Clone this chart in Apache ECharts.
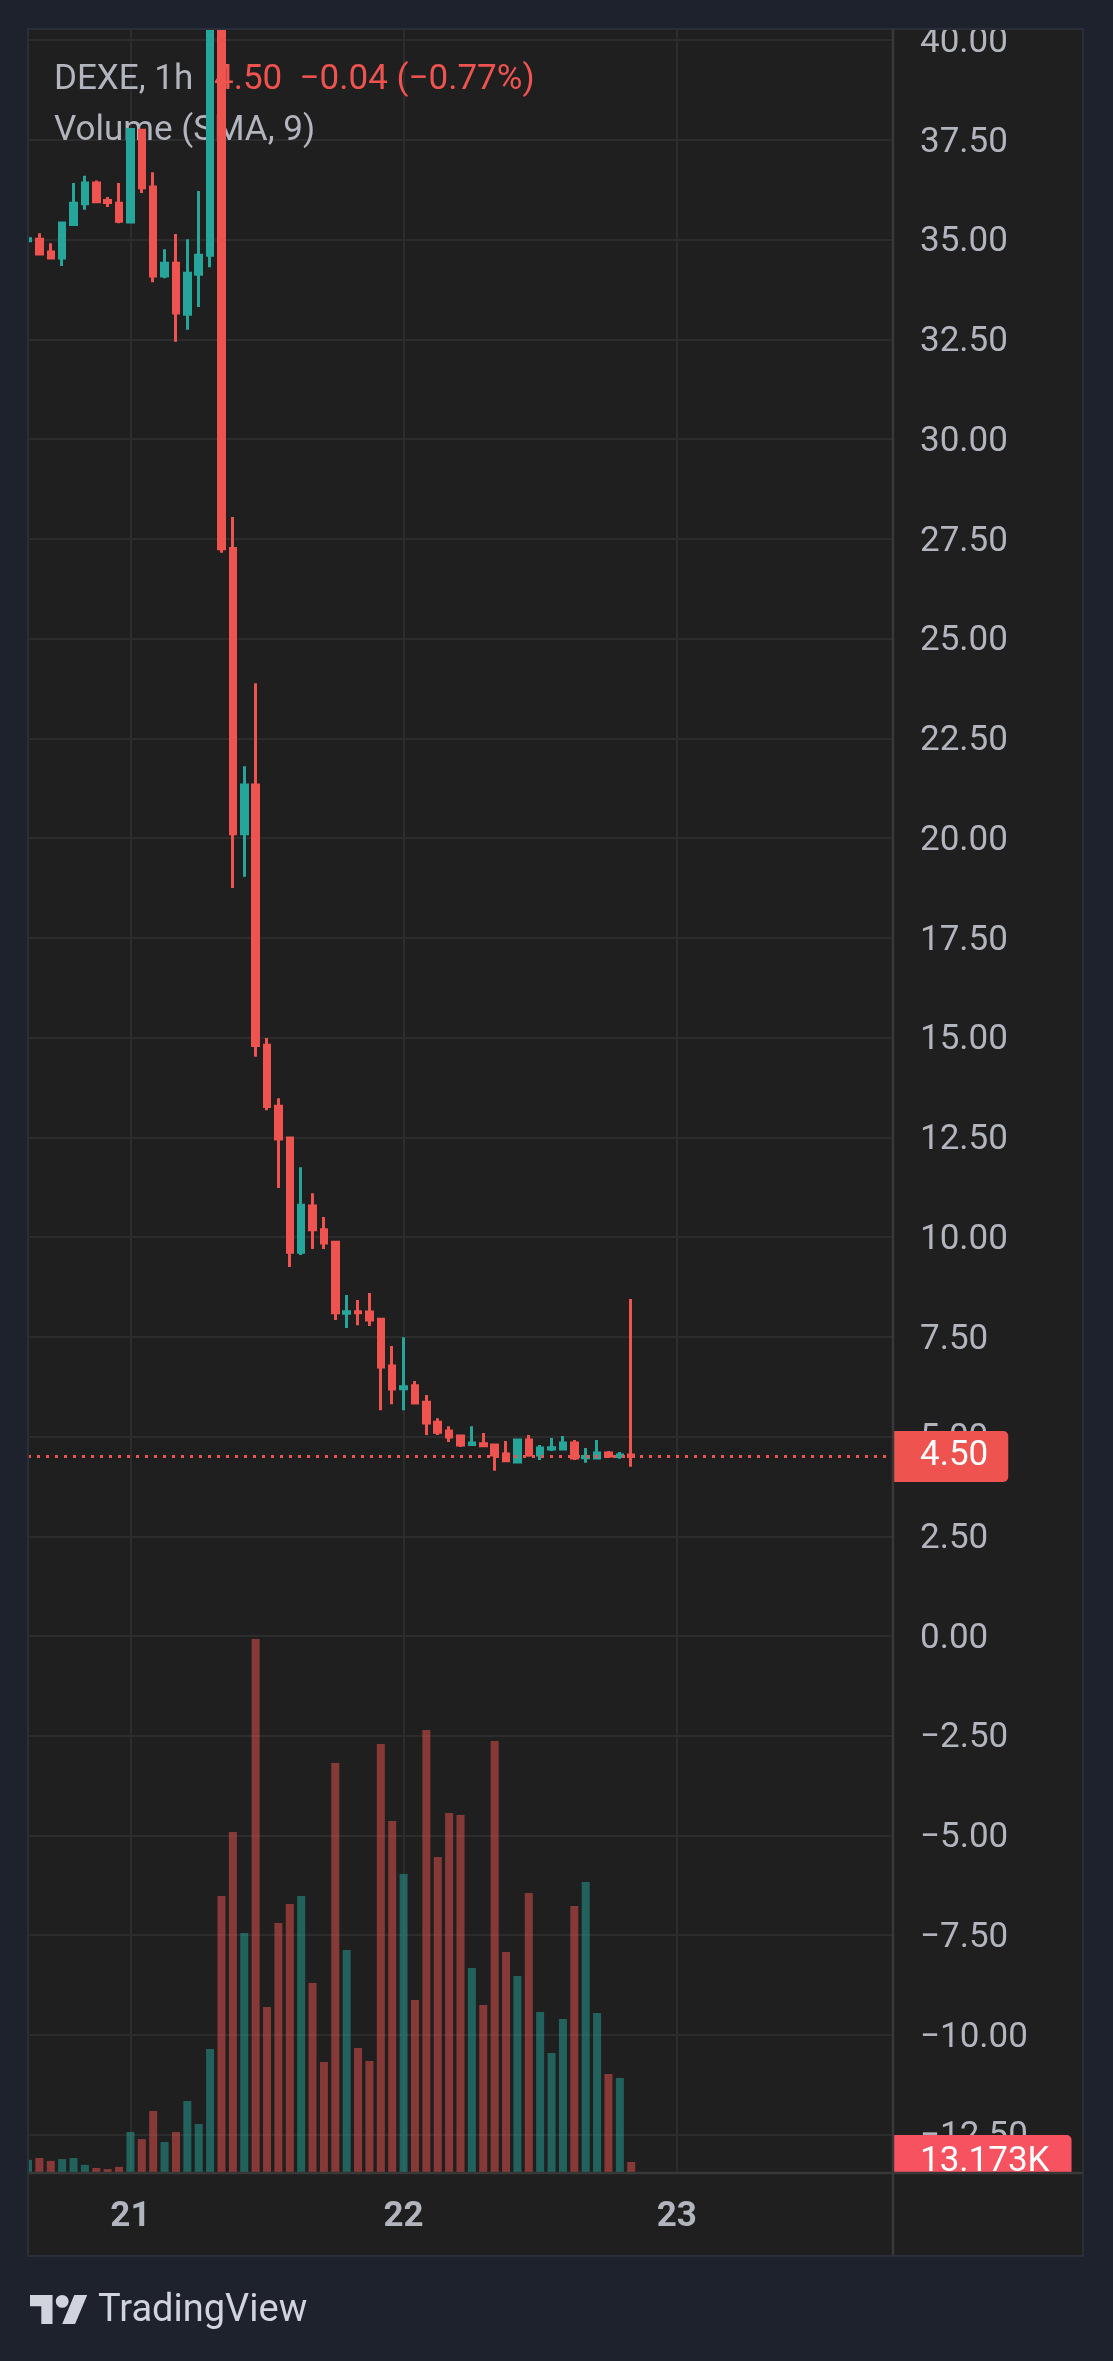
<!DOCTYPE html>
<html>
<head>
<meta charset="utf-8">
<script src="https://cdn.jsdelivr.net/npm/echarts@6/dist/echarts.min.js"></script>
<style>
html,body{margin:0;padding:0;background:#1e222d;}
#chart{width:1113px;height:2361px;}
</style>
</head>
<body>
<div id="chart"></div>
<script>
// ---- DATA ----
// hourly candles, first one = 20 15:00, last one = 22 20:00
const open  = [34.97,35.01,34.69,34.54,35.38,35.90,36.42,35.98,35.91,35.44,37.74,36.32,34.09,34.41,33.13,34.13,34.61,41.80,27.26,20.11,21.33,14.81,13.28,12.48,9.62,10.78,10.18,9.87,8.09,8.13,8.12,7.94,6.77,6.20,6.27,5.86,5.36,5.14,5.01,4.80,4.82,4.79,4.56,4.36,4.91,4.54,4.69,4.69,4.84,4.47,4.46,4.59,4.50,4.54];
const close = [35.02,34.64,34.54,35.42,35.91,36.42,35.95,35.93,35.46,37.76,36.30,34.09,34.41,33.16,34.16,34.61,41.80,27.25,20.11,21.33,14.80,13.27,12.46,9.62,10.80,10.18,9.85,8.10,8.13,8.10,7.92,6.74,6.19,6.25,5.84,5.34,5.11,4.99,4.79,4.84,4.77,4.54,4.39,4.91,4.54,4.71,4.72,4.84,4.46,4.50,4.59,4.51,4.54,4.50];
const low   = [34.96,34.64,34.54,34.34,35.36,35.75,35.93,35.82,35.41,35.42,36.17,33.93,34.03,32.44,32.74,33.31,34.31,27.15,18.75,19.03,14.52,13.18,11.23,9.25,9.55,9.70,9.70,7.92,7.72,7.79,7.77,5.66,5.81,5.66,5.82,5.04,5.04,4.86,4.74,4.76,4.74,4.14,4.38,4.35,4.49,4.41,4.64,4.68,4.41,4.34,4.45,4.46,4.44,4.24];
const high  = [35.03,35.16,34.91,35.44,36.42,36.60,36.48,36.07,36.42,37.78,37.76,36.69,34.76,35.14,35.01,36.22,42.60,42.00,28.05,21.80,23.88,14.99,13.48,12.50,11.75,11.10,10.50,9.90,8.55,8.42,8.60,7.95,7.27,7.49,6.39,6.04,5.46,5.26,5.04,5.26,5.09,4.80,4.89,4.93,5.04,4.79,4.96,5.01,4.91,4.71,4.91,4.64,4.61,8.45];
// volume in thousands
const volumeK = [15.8,18.0,14.5,16.6,18.0,9.8,6.0,4.7,7.3,49.1,40.6,74.3,37.1,49.1,86.2,58.7,148.5,331.7,408.4,287.4,639.5,198.8,299.4,322.2,331.7,227.5,132.9,491.0,267.1,149.7,134.1,513.8,421.6,358.1,207.2,530.5,378.4,431.1,428.7,245.5,201.2,517.4,264.7,235.9,335.3,192.8,143.7,184.4,319.8,348.5,191.6,118.6,113.8,13.173];
// price axis tick labels
const priceTicks = [-12.5,-10,-7.5,-5,-2.5,0,2.5,5,7.5,10,12.5,15,17.5,20,22.5,25,27.5,30,32.5,35,37.5,40];
// hourly time slots shown on the time axis (20 15:00 .. 23 19:00)
const categories = [];
for (let i = 0; i < 77; i++) {
  const t = 15 + i;
  categories.push((20 + Math.floor(t / 24)) + ' ' + String(t % 24).padStart(2, '0') + ':00');
}
const symbolName = 'DEXE, 1h';
const quoteText = '4.50  \u22120.04 (\u22120.77%)';
const volumeTitle = 'Volume (SMA, 9)';

// ---- CHART ----
const UP = '#26a69a', DOWN = '#ef5350';
const FONT = 'Roboto, sans-serif';
const candleData = open.map((o, i) => [o, close[i], low[i], high[i]]);
const volData = volumeK.map((v, i) => ({
  value: v,
  itemStyle: { color: close[i] >= open[i] ? 'rgba(38,166,154,0.5)' : 'rgba(239,83,80,0.5)' }
}));
const isDay = (v) => v.endsWith(' 00:00');
const fmtPrice = (v) => (v < 0 ? '\u2212' : '') + Math.abs(v).toFixed(2);

const chart = echarts.init(document.getElementById('chart'), null, { renderer: 'canvas' });
const lastClose = close[close.length - 1];
const lastVol = volumeK[volumeK.length - 1];

const option = {
  backgroundColor: '#1f1f1f',
  animation: false,
  textStyle: { fontFamily: FONT },
  grid: { left: 28, top: 29, width: 865, height: 2144 },
  xAxis: {
    type: 'category',
    data: categories,
    boundaryGap: false,
    axisLine: { show: false },
    axisTick: { show: false },
    axisLabel: {
      interval: (i, v) => isDay(v),
      formatter: (v) => v.split(' ')[0],
      color: '#b2b5be', fontSize: 35, fontWeight: 'bold', fontFamily: FONT, margin: 27
    },
    splitLine: { show: true, interval: (i, v) => isDay(v), lineStyle: { color: '#2c2c2c', width: 2 } }
  },
  yAxis: [
    {
      type: 'value', position: 'right', min: -13.46, max: 40.28,
      axisLine: { show: false },
      axisTick: { show: false, customValues: priceTicks },
      axisLabel: { customValues: priceTicks, formatter: fmtPrice, color: '#b2b5be', fontSize: 35, fontFamily: FONT, margin: 27, verticalAlign: 'top', lineHeight: 6 },
      splitLine: { show: true, lineStyle: { color: '#2c2c2c', width: 2 } }
    },
    { type: 'value', min: 0, max: 2567.6, show: false, splitLine: { show: false } }
  ],
  series: [
    {
      type: 'bar', xAxisIndex: 0, yAxisIndex: 1, data: volData, barWidth: 8, clip: true,
      markLine: {
        silent: true, symbol: ['none', 'none'],
        lineStyle: { color: 'rgba(0,0,0,0)', width: 1, type: 'solid' },
        label: {
          show: true, position: 'end', distance: 0, formatter: lastVol.toFixed(3) + 'K',
          color: '#ffffff', fontSize: 35, fontFamily: FONT, lineHeight: 36,
          backgroundColor: '#f7525f', padding: [9, 22, 9, 27], borderRadius: [0, 5, 5, 0]
        },
        data: [{ yAxis: lastVol }]
      }
    },
    {
      type: 'candlestick', xAxisIndex: 0, yAxisIndex: 0, data: candleData, barWidth: 6, clip: true,
      itemStyle: { color: UP, color0: DOWN, borderColor: UP, borderColor0: DOWN, borderWidth: 3 },
      markLine: {
        silent: true, symbol: ['none', 'none'],
        lineStyle: { color: DOWN, type: [3, 6], width: 3, cap: 'butt' },
        label: {
          show: true, position: 'end', distance: 0, formatter: lastClose.toFixed(2),
          color: '#ffffff', fontSize: 35, fontFamily: FONT, lineHeight: 36,
          backgroundColor: DOWN, padding: [8, 20, 7, 27], borderRadius: [0, 5, 5, 0]
        },
        data: [{ yAxis: lastClose }]
      }
    }
  ],
  graphic: [
    // legend texts (under the candles)
    { type: 'text', z: 1, left: 54, top: 63, style: { text: symbolName, fill: '#b2b5be', font: '35px ' + FONT } },
    { type: 'text', z: 1, left: 214, top: 63, style: { text: quoteText, fill: '#ef5350', font: '35px ' + FONT } },
    { type: 'text', z: 1, left: 54, top: 114, style: { text: volumeTitle, fill: '#b2b5be', font: '35px ' + FONT } },
    // cover bottom-right cell (clips the volume badge)
    { type: 'rect', z: 49, shape: { x: 894, y: 2174, width: 189, height: 82 }, style: { fill: '#1f1f1f' } },
    // outer frame
    { type: 'rect', z: 50, shape: { x: 0, y: 0, width: 1113, height: 28 }, style: { fill: '#1e222d' } },
    { type: 'rect', z: 50, shape: { x: 0, y: 0, width: 27, height: 2361 }, style: { fill: '#1e222d' } },
    { type: 'rect', z: 50, shape: { x: 1084, y: 0, width: 29, height: 2361 }, style: { fill: '#1e222d' } },
    { type: 'rect', z: 50, shape: { x: 0, y: 2257, width: 1113, height: 104 }, style: { fill: '#1e222d' } },
    { type: 'rect', z: 51, shape: { x: 28, y: 29, width: 1055, height: 2227 }, style: { fill: null, stroke: '#2a2e39', lineWidth: 2 } },
    // separators
    { type: 'line', z: 51, shape: { x1: 893, y1: 29, x2: 893, y2: 2256 }, style: { stroke: '#383838', lineWidth: 2.5 } },
    { type: 'line', z: 51, shape: { x1: 28, y1: 2173, x2: 1083, y2: 2173 }, style: { stroke: '#383838', lineWidth: 2.5 } },
    // TradingView logo
    { type: 'polygon', z: 52, shape: { points: [[30,2295],[52.5,2295],[52.5,2324],[41.3,2324],[41.3,2306.3],[30,2306.3]] }, style: { fill: '#d1d4dc' } },
    { type: 'circle', z: 52, shape: { cx: 62.2, cy: 2301.4, r: 6.4 }, style: { fill: '#d1d4dc' } },
    { type: 'polygon', z: 52, shape: { points: [[62.2,2324],[74.3,2295],[87.2,2295],[75.1,2324]] }, style: { fill: '#d1d4dc' } },
    { type: 'text', z: 52, left: 98, top: 2292, style: { text: 'TradingView', fill: '#d1d4dc', font: '38px ' + FONT } }
  ]
};
chart.setOption(option);
</script>
</body>
</html>
